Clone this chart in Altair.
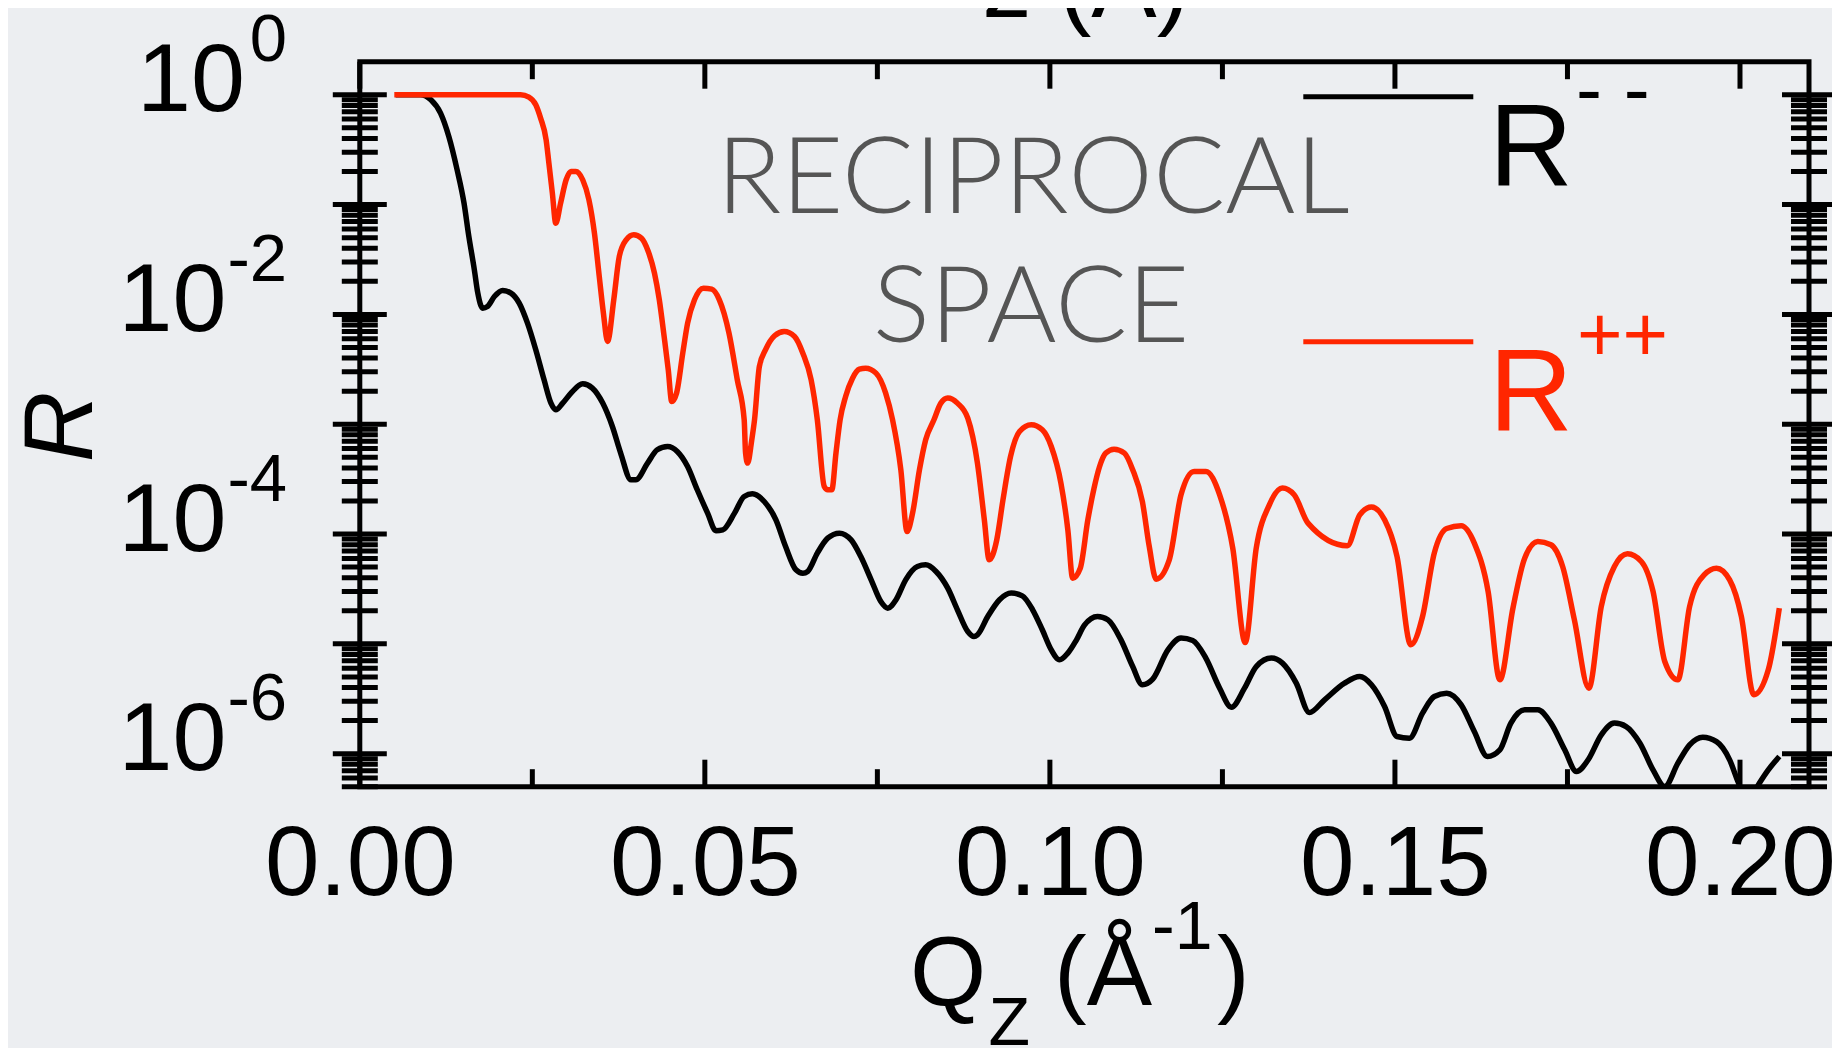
import altair as alt
import pandas as pd

# ---------------- data ----------------
# R-- (black): Qz (1/Angstrom) and log10(R)
q_minus = [0.0052, 0.0088, 0.0103, 0.0117, 0.0129, 0.0141, 0.0151, 0.0158, 0.0166, 0.0171,
           0.0178, 0.0185, 0.0195, 0.0207, 0.0219, 0.0231, 0.0243, 0.0255, 0.0267, 0.0277,
           0.0284, 0.0294, 0.0306, 0.0323, 0.0337, 0.0352, 0.0366, 0.0378, 0.0393, 0.0400,
           0.0417, 0.0431, 0.0446, 0.0460, 0.0475, 0.0489, 0.0504, 0.0516, 0.0526, 0.0543,
           0.0557, 0.0569, 0.0586, 0.0603, 0.0617, 0.0632, 0.0642, 0.0649, 0.0663, 0.0678,
           0.0695, 0.0712, 0.0726, 0.0741, 0.0755, 0.0765, 0.0777, 0.0791, 0.0808, 0.0820,
           0.0835, 0.0852, 0.0866, 0.0881, 0.0890, 0.0895, 0.0910, 0.0927, 0.0944, 0.0960,
           0.0975, 0.0989, 0.1002, 0.1014, 0.1026, 0.1038, 0.1050, 0.1069, 0.1084, 0.1103,
           0.1120, 0.1134, 0.1149, 0.1171, 0.1190, 0.1207, 0.1226, 0.1246, 0.1263, 0.1282,
           0.1299, 0.1321, 0.1337, 0.1357, 0.1376, 0.1398, 0.1427, 0.1449, 0.1466, 0.1485,
           0.1503, 0.1521, 0.1540, 0.1557, 0.1575, 0.1596, 0.1615, 0.1634, 0.1652, 0.1668,
           0.1688, 0.1707, 0.1726, 0.1746, 0.1763, 0.1780, 0.1799, 0.1818, 0.1835, 0.1855,
           0.1874, 0.1891, 0.1910, 0.1927, 0.1946, 0.1966, 0.1985, 0.1997, 0.2011, 0.2028,
           0.2041, 0.2057]
log10_r_minus = [0, 0, -0.046, -0.167, -0.380, -0.683, -0.986, -1.290, -1.594, -1.806,
                 -1.943, -1.928, -1.837, -1.782, -1.806, -1.897, -2.080, -2.322, -2.596, -2.808,
                 -2.869, -2.808, -2.717, -2.632, -2.671, -2.808, -3.021, -3.263, -3.506, -3.506,
                 -3.354, -3.233, -3.203, -3.248, -3.385, -3.597, -3.810, -3.970, -3.962, -3.810,
                 -3.658, -3.634, -3.704, -3.871, -4.114, -4.326, -4.357, -4.341, -4.174, -4.038,
                 -3.992, -4.053, -4.205, -4.417, -4.615, -4.675, -4.599, -4.417, -4.296, -4.281,
                 -4.341, -4.493, -4.690, -4.888, -4.933, -4.918, -4.751, -4.599, -4.538, -4.563,
                 -4.690, -4.872, -5.055, -5.146, -5.085, -4.970, -4.830, -4.751, -4.781, -4.964,
                 -5.207, -5.373, -5.322, -5.055, -4.948, -4.970, -5.130, -5.404, -5.577, -5.404,
                 -5.207, -5.130, -5.176, -5.358, -5.626, -5.510, -5.358, -5.298, -5.373, -5.571,
                 -5.844, -5.859, -5.631, -5.480, -5.450, -5.556, -5.799, -6.026, -5.965, -5.722,
                 -5.601, -5.601, -5.722, -5.965, -6.163, -6.056, -5.829, -5.722, -5.753, -5.905,
                 -6.148, -6.300, -6.087, -5.920, -5.850, -5.890, -6.056, -6.254, -6.450, -6.270,
                 -6.148, -6.026]

# R++ (red)
q_plus = [0.0050, 0.0233, 0.0245, 0.0255, 0.0262, 0.0270, 0.0274, 0.0279, 0.0284, 0.0291,
          0.0299, 0.0306, 0.0313, 0.0323, 0.0332, 0.0340, 0.0347, 0.0353, 0.0359, 0.0368,
          0.0376, 0.0386, 0.0397, 0.0408, 0.0418, 0.0427, 0.0434, 0.0441, 0.0447, 0.0452,
          0.0459, 0.0468, 0.0475, 0.0485, 0.0498, 0.0510, 0.0521, 0.0535, 0.0547, 0.0557,
          0.0559, 0.0562, 0.0568, 0.0572, 0.0579, 0.0588, 0.0601, 0.0615, 0.0630, 0.0642,
          0.0654, 0.0663, 0.0673, 0.0678, 0.0684, 0.0690, 0.0696, 0.0704, 0.0714, 0.0724,
          0.0733, 0.0748, 0.0762, 0.0772, 0.0784, 0.0793, 0.0801, 0.0811, 0.0820, 0.0832,
          0.0842, 0.0852, 0.0866, 0.0881, 0.0895, 0.0905, 0.0912, 0.0923, 0.0932, 0.0943,
          0.0956, 0.0973, 0.0989, 0.1002, 0.1016, 0.1026, 0.1033, 0.1044, 0.1055, 0.1064,
          0.1072, 0.1081, 0.1093, 0.1108, 0.1120, 0.1134, 0.1144, 0.1154, 0.1173, 0.1190,
          0.1209, 0.1226, 0.1246, 0.1265, 0.1283, 0.1299, 0.1318, 0.1337, 0.1354, 0.1374,
          0.1431, 0.1449, 0.1466, 0.1485, 0.1503, 0.1523, 0.1540, 0.1557, 0.1575, 0.1596,
          0.1615, 0.1635, 0.1652, 0.1671, 0.1688, 0.1707, 0.1726, 0.1743, 0.1760, 0.1781,
          0.1799, 0.1818, 0.1837, 0.1857, 0.1874, 0.1891, 0.1910, 0.1927, 0.1948, 0.1966,
          0.1985, 0.2002, 0.2020, 0.2041, 0.2057]
log10_r_plus = [0, 0, -0.021, -0.091, -0.213, -0.410, -0.622, -0.895, -1.169, -0.986,
                -0.774, -0.698, -0.698, -0.774, -0.956, -1.260, -1.655, -1.988, -2.246, -1.867,
                -1.473, -1.321, -1.275, -1.305, -1.427, -1.624, -1.867, -2.201, -2.505, -2.793,
                -2.717, -2.353, -2.080, -1.867, -1.761, -1.770, -1.867, -2.170, -2.596, -2.960,
                -3.263, -3.354, -3.142, -2.960, -2.474, -2.322, -2.195, -2.156, -2.201, -2.353,
                -2.596, -2.960, -3.567, -3.597, -3.597, -3.263, -2.960, -2.748, -2.581, -2.499,
                -2.490, -2.535, -2.717, -2.960, -3.415, -3.977, -3.810, -3.415, -3.142, -2.960,
                -2.808, -2.762, -2.808, -2.945, -3.354, -3.871, -4.235, -4.053, -3.689, -3.294,
                -3.066, -3.005, -3.051, -3.203, -3.537, -3.962, -4.402, -4.311, -3.871, -3.582,
                -3.385, -3.263, -3.227, -3.263, -3.415, -3.704, -4.114, -4.411, -4.235, -3.643,
                -3.430, -3.430, -3.643, -4.129, -4.988, -4.129, -3.734, -3.582, -3.643, -3.901,
                -4.107, -3.825, -3.755, -3.871, -4.205, -5.009, -4.751, -4.174, -3.950, -3.925,
                -4.083, -4.523, -5.328, -4.675, -4.220, -4.068, -4.098, -4.296, -4.781, -5.404,
                -4.660, -4.296, -4.180, -4.250, -4.523, -5.161, -5.328, -4.660, -4.372, -4.311,
                -4.417, -4.751, -5.464, -5.237, -4.675]

# axis ticks / labels
x_label_values = [0.0, 0.05, 0.10, 0.15, 0.20]
x_minor_values = [0.025, 0.075, 0.125, 0.175]
y_decade_values = [1e-6, 1e-5, 1e-4, 1e-3, 1e-2, 1e-1, 1.0]
y_minor_values = [k * 10.0 ** n for n in range(-7, 0) for k in range(2, 10) if k * 10.0 ** n >= 5e-7]
y_axis_label_values = [1e-2, 1e-4, 1e-6]          # "10" drawn by the axis
y_top_label_value = [1.0]                          # "10" of 10^0 (narrower exponent)
y_label_values = [1.0, 1e-2, 1e-4, 1e-6]
y_label_exponents = ["0", "-2", "-4", "-6"]

# ---------------- styling ----------------
RED = "#ff2600"
BLACK = "#000000"
GRAY = "#555555"
BG = "#eceef1"
FONT = "Liberation Sans, Arial, Helvetica, sans-serif"
LIGHT = "Lato Light, Lato, Open Sans, sans-serif"

W, H = 1449.2, 725
PAD_L, PAD_T = 351.8, 53.7
PAD_R = 1824 - PAD_L - W
PAD_B = 1040 - PAD_T - H
LW = 5.5

x_scale = alt.Scale(domain=[0, 0.21], nice=False, zero=False)
y_scale = alt.Scale(type="log", domain=[5e-7, 2.0], nice=False)

df_minus = pd.DataFrame({"q": q_minus, "R": [10.0 ** v for v in log10_r_minus]})
df_plus = pd.DataFrame({"q": q_plus, "R": [10.0 ** v for v in log10_r_plus]})

x_axis = alt.Axis(
    values=x_label_values, format=".2f", labelFont=FONT, labelFontSize=98,
    labelColor=BLACK, labelPadding=107.3, labelBaseline="alphabetic",
    labelFlush=False, labelOverlap=False, labelLimit=0,
    ticks=False, domain=False, grid=False, title=None,
)
y_axis = alt.Axis(
    values=y_axis_label_values, labelExpr="'10'", labelFont=FONT, labelFontSize=97,
    labelColor=BLACK, labelAlign="right", labelBaseline="alphabetic", labelOffset=16,
    labelPadding=133.8, labelFlush=False, labelOverlap=False, labelLimit=0,
    ticks=False, domain=False, grid=False,
    title="R", titleFont=FONT, titleFontSize=98, titleFontStyle="italic",
    titleFontWeight="normal", titleColor=BLACK, titleX=-268.8, titleY=364.6,
    titleAngle=270, titleAlign="center", titleBaseline="alphabetic", titleLimit=0,
)

X = alt.X("q:Q", scale=x_scale, axis=x_axis)
Y = alt.Y("R:Q", scale=y_scale, axis=y_axis)

line_minus = alt.Chart(df_minus).mark_line(
    color=BLACK, strokeWidth=LW, clip=True, strokeJoin="round", interpolate="monotone"
).encode(x=X, y=Y)
line_plus = alt.Chart(df_plus).mark_line(
    color=RED, strokeWidth=LW, clip=True, strokeJoin="round", interpolate="monotone"
).encode(x=X, y=Y)


def y_ticks(values, x1, x2):
    return alt.Chart(pd.DataFrame({"R": values})).mark_rule(
        color=BLACK, strokeWidth=5
    ).encode(y=Y, x=alt.value(x1), x2=alt.value(x2))


def x_ticks(values, y1, y2):
    return alt.Chart(pd.DataFrame({"q": values})).mark_rule(
        color=BLACK, strokeWidth=5
    ).encode(x=X, y=alt.value(y1), y2=alt.value(y2))


tick_layers = [
    y_ticks(y_decade_values, -27, 27),
    y_ticks(y_minor_values, -18, 18),
    y_ticks(y_decade_values, W - 27, W + 27),
    y_ticks(y_minor_values, W - 18, W + 18),
    x_ticks(x_label_values, H, H - 27),
    x_ticks(x_minor_values, H, H - 17.5),
    x_ticks(x_label_values, 0, 27),
    x_ticks(x_minor_values, 0, 17.5),
]

exponents = alt.Chart(
    pd.DataFrame({"R": y_label_values, "exp": y_label_exponents})
).mark_text(
    align="right", baseline="alphabetic", dy=-33.5, fontSize=67, font=FONT, color=BLACK
).encode(y=Y, x=alt.value(-72.8), text="exp:N")

top_base = alt.Chart(
    pd.DataFrame({"R": y_top_label_value, "base": ["10"]})
).mark_text(
    align="right", baseline="alphabetic", dy=16, fontSize=97, font=FONT, color=BLACK
).encode(y=Y, x=alt.value(-114.8), text="base:N")

one = alt.Data(values=[{"a": 1}])


def label(txt, x, y, size, color=BLACK, font=FONT, align="left", weight="normal", style="normal"):
    return alt.Chart(one).mark_text(
        text=txt, align=align, baseline="alphabetic", fontSize=size, font=font,
        color=color, fontWeight=weight, fontStyle=style,
    ).encode(x=alt.value(x), y=alt.value(y))


def legend_line(y, color):
    return alt.Chart(one).mark_rule(color=color, strokeWidth=5).encode(
        x=alt.value(943.5), x2=alt.value(1113.5), y=alt.value(y)
    )


annotations = [
    # cut-off title of the panel above
    label("z (Å)", 622.7, -44.7, 98),
    # x-axis title  Q_z (Å^-1)
    label("Q", 550.2, 943.3, 98),
    label("Z", 628.8, 983.5, 68),
    label("(Å", 694.2, 943.3, 98),
    label("-1", 792.2, 886.8, 68),
    label(")", 857.2, 943.3, 98),
    # inset caption
    label("RECIPROCAL", 673.2, 151.6, 107, color=GRAY, font=LIGHT, align="center", weight=300),
    label("SPACE", 671.2, 280, 107, color=GRAY, font=LIGHT, align="center", weight=300),
    # legend
    legend_line(35, BLACK),
    legend_line(280, RED),
    label("R", 1129.2, 123.3, 116),
    label("- -", 1216.2, 54.3, 78),
    label("R", 1129.2, 368.3, 116, color=RED),
    label("++", 1217.1, 299.3, 78, color=RED),
]

chart = alt.layer(
    line_minus, line_plus, *tick_layers, exponents, top_base, *annotations
).properties(
    width=W, height=H,
    padding={"left": PAD_L, "top": PAD_T, "right": PAD_R, "bottom": PAD_B},
    autosize=alt.AutoSizeParams(type="none"),
    background=BG,
).configure_view(stroke=BLACK, strokeWidth=5)

chart.save("out.html", embed_options={"renderer": "svg", "actions": False})
